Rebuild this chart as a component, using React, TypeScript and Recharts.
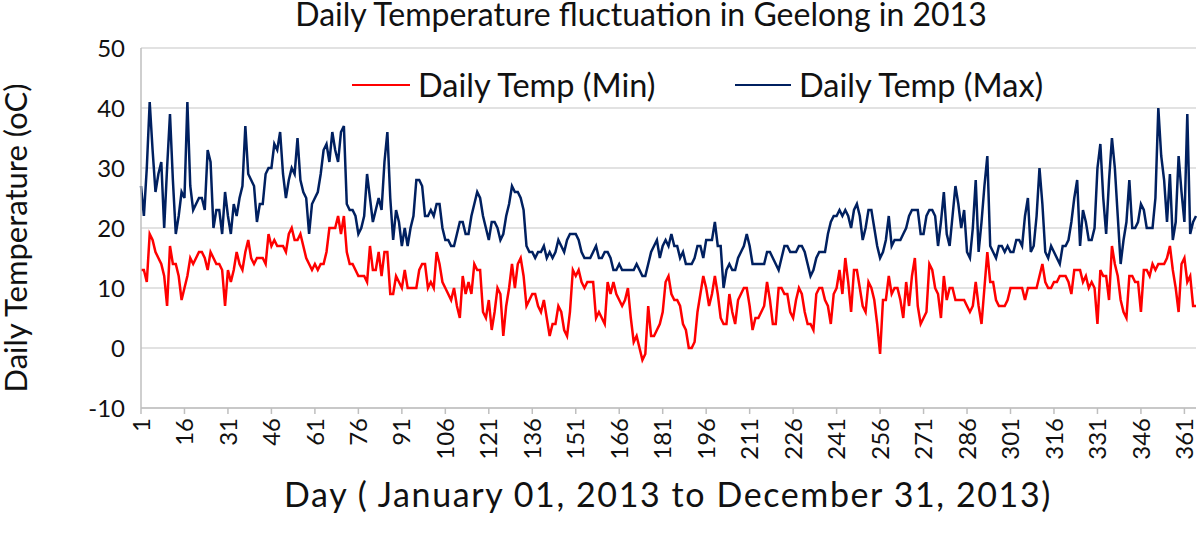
import React from 'react';
import { LineChart, Line, XAxis, YAxis, CartesianGrid } from 'recharts';

// day numbers 1..365 (category axis)
const days: number[] = Array.from({ length: 365 }, (_, i) => i + 1);

const xTicks = [1, 16, 31, 46, 61, 76, 91, 106, 121, 136, 151, 166, 181, 196, 211, 226, 241, 256, 271, 286, 301, 316, 331, 346, 361];
const yTicks = [-10, 0, 10, 20, 30, 40, 50];

// daily minimum, oC
const minTemp = [
  13, 13, 11, 19, 18, 16, 15, 14, 12, 7, 17, 14, 14, 12, 8, 10, 12, 15, 14, 15,
  16, 16, 15, 13, 16, 15, 14, 14, 13, 7, 13, 11, 13, 16, 14, 13, 16, 18, 15, 14,
  15, 15, 15, 14, 19, 17, 18, 17, 17, 17, 16, 19, 20, 18, 18, 19, 17, 15, 14, 13,
  14, 13, 14, 14, 16, 20, 20, 20, 22, 19, 22, 16, 14, 14, 13, 12, 12, 12, 11, 17,
  13, 13, 16, 12, 16, 16, 9, 9, 12, 11, 10, 13, 10, 10, 10, 10, 13, 14, 14, 10,
  11, 10, 16, 14, 11, 10, 9, 8, 10, 7, 5, 12, 9, 11, 9, 14, 13, 13, 6, 5,
  8, 3, 6, 10, 9, 2, 7, 10, 14, 10, 14, 15, 12, 7, 8, 9, 9, 7, 6, 8,
  5, 2, 4, 4, 7, 6, 3, 2, 6, 13, 12, 13, 11, 10, 11, 11, 11, 5, 6, 5,
  4, 11, 9, 11, 9, 8, 7, 8, 10, 5, 1, 2, 0, -2, -1, 7, 2, 2, 3, 4,
  6, 11, 12, 9, 8, 8, 7, 4, 3, 0, 0, 1, 6, 9, 12, 10, 7, 9, 12, 9,
  5, 4, 4, 9, 6, 4, 8, 9, 10, 10, 7, 3, 5, 5, 6, 7, 11, 8, 4, 4,
  10, 10, 9, 9, 6, 5, 8, 10, 9, 6, 4, 4, 3, 9, 10, 10, 8, 7, 4, 9,
  10, 13, 9, 15, 11, 6, 13, 13, 10, 7, 6, 11, 10, 8, 4, -1, 8, 8, 12, 9,
  10, 10, 8, 5, 11, 7, 12, 15, 7, 4, 5, 6, 14, 13, 10, 9, 5, 12, 8, 10,
  10, 8, 8, 8, 8, 7, 6, 7, 11, 7, 4, 10, 16, 11, 11, 8, 7, 7, 7, 8,
  10, 10, 10, 10, 10, 8, 10, 10, 10, 10, 12, 14, 11, 10, 10, 11, 11, 12, 12, 12,
  11, 9, 13, 13, 13, 11, 12, 10, 11, 10, 4, 13, 12, 12, 8, 17, 14, 12, 8, 6,
  5, 12, 12, 11, 11, 6, 13, 13, 12, 14, 13, 14, 14, 14, 15, 17, 13, 10, 6, 14,
  15, 11, 12, 7, 7,
];

// daily maximum, oC
const maxTemp = [
  27, 22, 30, 41, 33, 26, 29, 31, 20, 30, 39, 28, 19, 22, 26, 25, 41, 27, 23, 24,
  25, 25, 23, 33, 31, 20, 23, 23, 19, 26, 22, 19, 24, 22, 25, 27, 37, 29, 28, 27,
  21, 24, 24, 29, 30, 30, 34, 33, 36, 29, 25, 28, 30, 29, 35, 28, 26, 25, 19, 24,
  25, 26, 29, 33, 34, 31, 36, 33, 31, 36, 37, 24, 23, 23, 22, 19, 20, 22, 29, 25,
  21, 23, 25, 23, 31, 36, 25, 18, 23, 21, 17, 20, 17, 20, 22, 28, 28, 27, 22, 22,
  23, 22, 24, 24, 20, 18, 18, 17, 17, 19, 21, 21, 19, 19, 22, 24, 26, 25, 22, 20,
  18, 21, 21, 20, 18, 19, 22, 24, 27, 26, 26, 25, 23, 17, 16, 16, 15, 16, 16, 17,
  15, 16, 15, 16, 18, 17, 16, 18, 19, 19, 19, 18, 16, 15, 15, 15, 16, 17, 15, 15,
  16, 16, 15, 13, 13, 14, 13, 13, 13, 13, 13, 14, 13, 12, 12, 14, 16, 17, 18, 15,
  17, 18, 17, 19, 17, 17, 15, 16, 14, 14, 14, 15, 17, 17, 15, 18, 18, 18, 21, 17,
  17, 10, 13, 14, 13, 13, 15, 16, 17, 19, 17, 14, 14, 14, 14, 14, 16, 16, 15, 14,
  13, 15, 17, 17, 16, 16, 16, 17, 17, 16, 14, 12, 13, 15, 16, 16, 16, 19, 21, 22,
  22, 23, 22, 23, 22, 20, 23, 24, 22, 18, 20, 23, 23, 20, 17, 15, 16, 18, 22, 17,
  18, 18, 18, 19, 20, 22, 23, 23, 23, 19, 19, 22, 23, 23, 22, 17, 21, 26, 19, 17,
  22, 27, 24, 20, 23, 16, 15, 20, 28, 16, 21, 27, 32, 17, 16, 15, 17, 17, 16, 17,
  16, 16, 18, 18, 17, 22, 25, 16, 17, 22, 30, 24, 16, 15, 17, 16, 15, 14, 17, 17,
  18, 21, 25, 28, 17, 23, 21, 18, 18, 20, 30, 34, 25, 19, 28, 35, 30, 22, 14, 18,
  21, 28, 20, 20, 21, 24, 23, 20, 20, 20, 25, 40, 32, 28, 21, 29, 18, 21, 32, 26,
  21, 39, 19, 21, 22,
];

const FONT = 'Lato, "Open Sans", sans-serif';
const TEXT = '#111';

const XTick = (props: any) => {
  const { x, y, payload } = props;
  return (
    <text
      x={x}
      y={y}
      transform={`rotate(-90 ${x} ${y})`}
      textAnchor="end"
      dy="0.36em"
      fontSize={24}
      fontFamily={FONT}
      fill={TEXT}
    >
      {payload.value}
    </text>
  );
};

const App = () => {
  const data = days.map((day, i) => ({ day, min: minTemp[i], max: maxTemp[i] }));

  return (
    <div
      style={{
        position: 'absolute',
        left: 0,
        top: 0,
        width: 1200,
        height: 538,
        background: '#ffffff',
        fontFamily: FONT,
        color: TEXT,
        overflow: 'hidden',
      }}
    >
      <LineChart width={1200} height={538} data={data} margin={{ top: 48, right: 4, bottom: 0, left: 0 }}>
        <CartesianGrid vertical={false} stroke="#d9d9d9" strokeWidth={1.5} />
        <XAxis
          dataKey="day"
          type="number"
          domain={[1, 365]}
          ticks={xTicks}
          interval={0}
          height={130}
          tickSize={6}
          tickMargin={4}
          tick={<XTick />}
          stroke="#bfbfbf"
          strokeWidth={1.5}
        />
        <YAxis
          domain={[-10, 50]}
          ticks={yTicks}
          interval={0}
          width={141}
          tickLine={false}
          tickSize={0}
          tickMargin={16}
          tick={{ fontSize: 24, fill: TEXT, fontFamily: FONT }}
          stroke="#bfbfbf"
          strokeWidth={1.5}
        />
        <Line type="linear" dataKey="min" stroke="#ff0000" strokeWidth={2.5} dot={false} isAnimationActive={false} />
        <Line type="linear" dataKey="max" stroke="#002060" strokeWidth={2.5} dot={false} isAnimationActive={false} />
      </LineChart>

      {/* title */}
      <div
        style={{
          position: 'absolute',
          left: 641,
          top: 0,
          transform: 'translateX(-50%)',
          whiteSpace: 'nowrap',
          fontSize: 32,
          lineHeight: '28px',
        }}
      >
        Daily Temperature fluctuation in Geelong in 2013
      </div>

      {/* legend */}
      <div style={{ position: 'absolute', left: 352, top: 68, display: 'flex', alignItems: 'center', whiteSpace: 'nowrap' }}>
        <div style={{ width: 58, height: 2.5, background: '#ff0000' }} />
        <span style={{ marginLeft: 8, fontSize: 32.5, lineHeight: '34px' }}>Daily Temp (Min)</span>
      </div>
      <div style={{ position: 'absolute', left: 735, top: 68, display: 'flex', alignItems: 'center', whiteSpace: 'nowrap' }}>
        <div style={{ width: 56, height: 2.5, background: '#002060' }} />
        <span style={{ marginLeft: 8, fontSize: 32.5, lineHeight: '34px' }}>Daily Temp (Max)</span>
      </div>

      {/* y axis title */}
      <div
        style={{
          position: 'absolute',
          left: 15,
          top: 238,
          transform: 'translate(-50%, -50%) rotate(-90deg)',
          whiteSpace: 'nowrap',
          fontSize: 31,
          lineHeight: '26px',
        }}
      >
        Daily Temperature (oC)
      </div>

      {/* x axis title */}
      <div
        style={{
          position: 'absolute',
          left: 668,
          top: 477,
          transform: 'translateX(-50%)',
          whiteSpace: 'nowrap',
          fontSize: 34,
          letterSpacing: 1.6,
          lineHeight: '34px',
        }}
      >
        Day ( January 01, 2013 to December 31, 2013)
      </div>
    </div>
  );
};

export default App;
